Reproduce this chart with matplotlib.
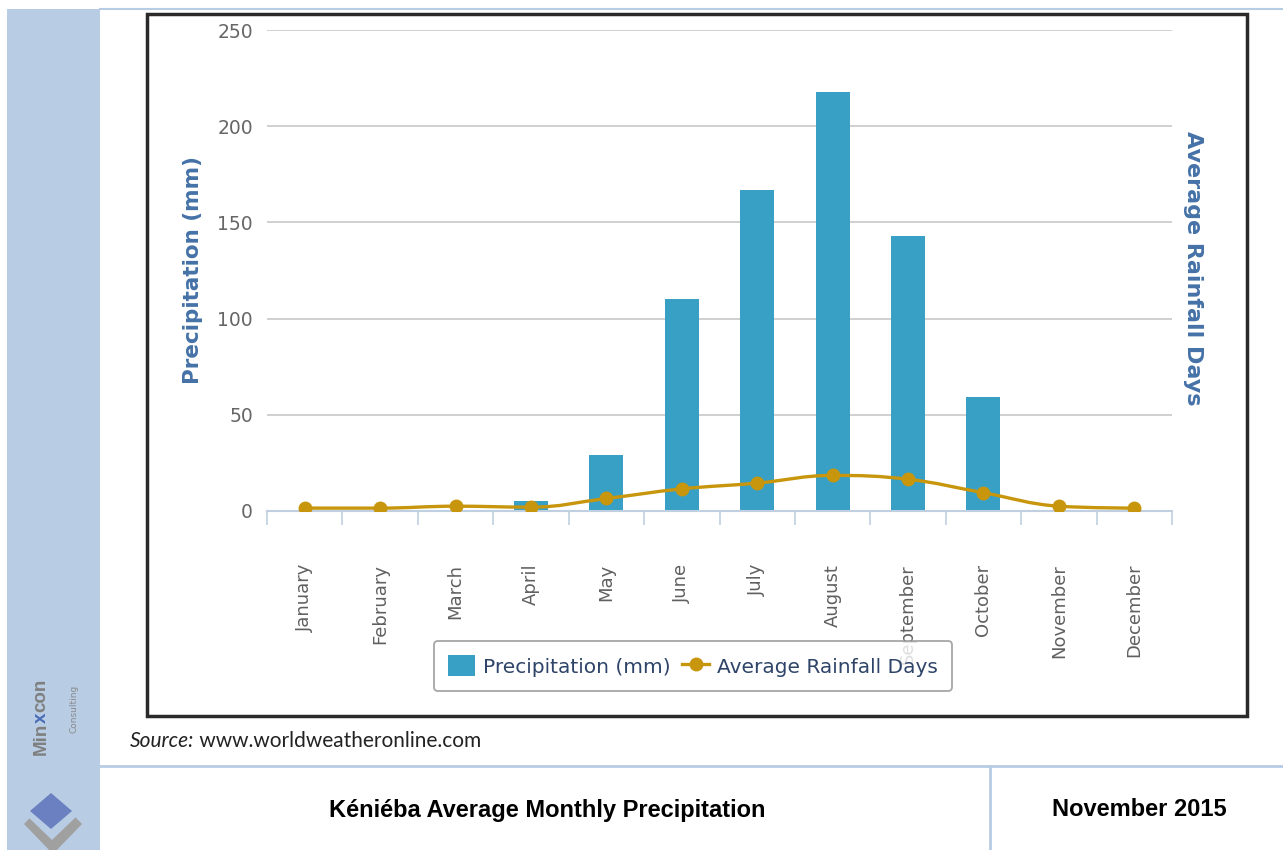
import matplotlib
matplotlib.use("Agg")
import matplotlib.pyplot as plt
from matplotlib.lines import Line2D
from matplotlib.patches import Rectangle, Polygon, PathPatch, Patch
from matplotlib.path import Path
import numpy as np

plt.rcParams["font.family"] = "DejaVu Sans"

months = ['January', 'February', 'March', 'April', 'May', 'June', 'July',
          'August', 'September', 'October', 'November', 'December']
precip_mm = [0, 0, 0, 5, 29, 110, 167, 218, 143, 59, 0, 0]
rain_days = [1.5, 1.5, 2.5, 2, 6.5, 11.5, 14.5, 18.5, 16.5, 9.5, 2.5, 1.5]
y_ticks = [0, 50, 100, 150, 200, 250]

W, H = 1283, 850
BAR_C = '#37a0c4'
LINE_C = '#c8960c'
AXIS_BLUE = '#4572a7'
SIDE = '#b8cce4'


def fx(px):
    return px / W


def fy(py):
    return 1 - py / H


def spline_path(xs, ys):
    # same smoothing as the web chart's "spline" series
    sm = 1.5
    den = sm + 1
    n = len(xs)
    left = [None] * n
    right = [None] * n
    for i in range(n):
        x, y = xs[i], ys[i]
        if i == 0 or i == n - 1:
            left[i] = right[i] = (x, y)
            continue
        lx, ly = xs[i - 1], ys[i - 1]
        nx, ny = xs[i + 1], ys[i + 1]
        lcx, lcy = (sm * x + lx) / den, (sm * y + ly) / den
        rcx, rcy = (sm * x + nx) / den, (sm * y + ny) / den
        corr = (rcy - lcy) * (rcx - x) / (rcx - lcx) + y - rcy
        lcy += corr
        rcy += corr
        if lcy > ly and lcy > y:
            lcy = max(ly, y); rcy = 2 * y - lcy
        elif lcy < ly and lcy < y:
            lcy = min(ly, y); rcy = 2 * y - lcy
        if rcy > ny and rcy > y:
            rcy = max(ny, y); lcy = 2 * y - rcy
        elif rcy < ny and rcy < y:
            rcy = min(ny, y); lcy = 2 * y - rcy
        left[i] = (lcx, lcy)
        right[i] = (rcx, rcy)
    verts = [(xs[0], ys[0])]
    codes = [Path.MOVETO]
    for i in range(1, n):
        verts += [right[i - 1], left[i], (xs[i], ys[i])]
        codes += [Path.CURVE4] * 3
    return Path(verts, codes)


fig = plt.figure(figsize=(W / 100, H / 100), dpi=100)
fig.patch.set_facecolor('white')

# page decoration: sidebar, rules, chart frame
fig.add_artist(Rectangle((fx(7), 0), fx(100) - fx(7), fy(9), transform=fig.transFigure,
                         facecolor=SIDE, edgecolor='none', zorder=0))
fig.add_artist(Line2D([fx(100), 1], [fy(9), fy(9)], transform=fig.transFigure, color=SIDE, lw=1.5))
fig.add_artist(Line2D([fx(100), 1], [fy(766), fy(766)], transform=fig.transFigure, color=SIDE, lw=2))
fig.add_artist(Line2D([fx(990), fx(990)], [fy(766), 0], transform=fig.transFigure, color=SIDE, lw=2))
fig.add_artist(Rectangle((fx(147), fy(716)), fx(1247) - fx(147), fy(14) - fy(716),
                         transform=fig.transFigure, facecolor='none', edgecolor='#2a2a2a', lw=2.5, zorder=1))

# chart
ax = fig.add_axes([fx(267), fy(511), fx(1172) - fx(267), fy(30) - fy(511)])
x = np.arange(len(months))
ax.bar(x, precip_mm, width=0.45, color=BAR_C, zorder=2, label='Precipitation (mm)')
ax.set_xlim(-0.5, len(months) - 0.5)
ax.set_ylim(0, 250)
ax.set_yticks(y_ticks)
ax.grid(axis='y', color='#c8c8c8', lw=1.2, zorder=0)
ax.set_axisbelow(True)
for s in ['top', 'right', 'left']:
    ax.spines[s].set_visible(False)
ax.spines['bottom'].set_color('#c0d0e0')
ax.spines['bottom'].set_linewidth(1.5)
ax.spines['bottom'].set_zorder(3)
ax.set_xticks(x)
ax.set_xticklabels(months, rotation=90, color='#606060', fontsize=13)
ax.set_xticks(np.arange(len(months) + 1) - 0.5, minor=True)
ax.tick_params(axis='x', which='major', length=0, pad=38)
ax.tick_params(axis='x', which='minor', length=10, width=1.2, color='#c0d0e0')
ax.tick_params(axis='y', length=0, pad=10, labelcolor='#666666', labelsize=13.5)
ax.set_ylabel('Precipitation (mm)', color=AXIS_BLUE, fontweight='bold', fontsize=15.5, va='center')
ax.yaxis.set_label_coords(-0.082, 0.5)

ax2 = ax.twinx()
ax2.set_ylim(0, 250)
ax2.set_yticks([])
for s in ax2.spines.values():
    s.set_visible(False)
ax2.add_patch(PathPatch(spline_path(list(x), rain_days), facecolor='none', edgecolor=LINE_C,
                        lw=2.4, zorder=3))
ax2.plot(x, rain_days, linestyle='none', marker='o', ms=9, color=LINE_C, zorder=4)
ax2.set_ylabel('Average Rainfall Days', color=AXIS_BLUE, fontweight='bold', fontsize=16,
               rotation=270, va='center')
ax2.yaxis.set_label_coords(1.0235, 0.505)

handles = [Patch(facecolor=BAR_C, edgecolor='none'),
           Line2D([], [], color=LINE_C, lw=2.4, marker='o', ms=9)]
leg = fig.legend(handles, ['Precipitation (mm)', 'Average Rainfall Days'], ncol=2,
                 loc='center', bbox_to_anchor=(fx(693), fy(666)), fontsize=14.5,
                 frameon=True, fancybox=True, edgecolor='#909090', handlelength=1.3,
                 handleheight=1.2, columnspacing=0.6, handletextpad=0.4, borderpad=0.7)
leg.get_frame().set_linewidth(1.3)
for t in leg.get_texts():
    t.set_color('#2e4468')

# source line
src = fig.text(fx(130), fy(741), 'Source:', fontsize=15, family='Lato', style='italic',
               color='#222222', va='center', ha='left')
ax.annotate(' www.worldweatheronline.com', xy=(1, 0.5), xycoords=src, fontsize=15,
            family='Lato', color='#222222', va='center', ha='left', annotation_clip=False)

# footer
fig.text(fx(547), fy(810), 'Kéniéba Average Monthly Precipitation', fontsize=17,
         family='Liberation Sans', fontweight='bold', ha='center', va='center')
fig.text(fx(1139), fy(810), 'November 2015', fontsize=17,
         family='Liberation Sans', fontweight='bold', ha='center', va='center')

# logo
LOGO_GREY = '#7f7f7f'
t1 = fig.text(fx(41), fy(755), 'Min', rotation=90, fontsize=13.5, family='Liberation Sans',
              fontweight='bold', color=LOGO_GREY, ha='center', va='bottom')
t2 = ax.annotate('x', xy=(0.5, 1), xycoords=t1, rotation=90, fontsize=13.5, family='Liberation Sans',
                 fontweight='bold', color='#4a6cb5', ha='center', va='bottom', annotation_clip=False)
ax.annotate('con', xy=(0.5, 1), xycoords=t2, rotation=90, fontsize=13.5, family='Liberation Sans',
            fontweight='bold', color=LOGO_GREY, ha='center', va='bottom', annotation_clip=False)
fig.text(fx(74), fy(685), 'Consulting', rotation=90, fontsize=6.5, color='#8a8a8a',
         ha='center', va='top')


def diamond(cx, cy, hw, hh, color):
    pts = [(fx(cx), fy(cy - hh)), (fx(cx + hw), fy(cy)), (fx(cx), fy(cy + hh)), (fx(cx - hw), fy(cy))]
    fig.add_artist(Polygon(pts, closed=True, transform=fig.transFigure, facecolor=color,
                           edgecolor='none', joinstyle='round'))


diamond(53, 824, 29, 30, '#a0a0a0')
diamond(52, 816, 25, 24, SIDE)
diamond(51, 811, 21, 18, '#6a80c0')

fig.savefig('out.png', dpi=100)
